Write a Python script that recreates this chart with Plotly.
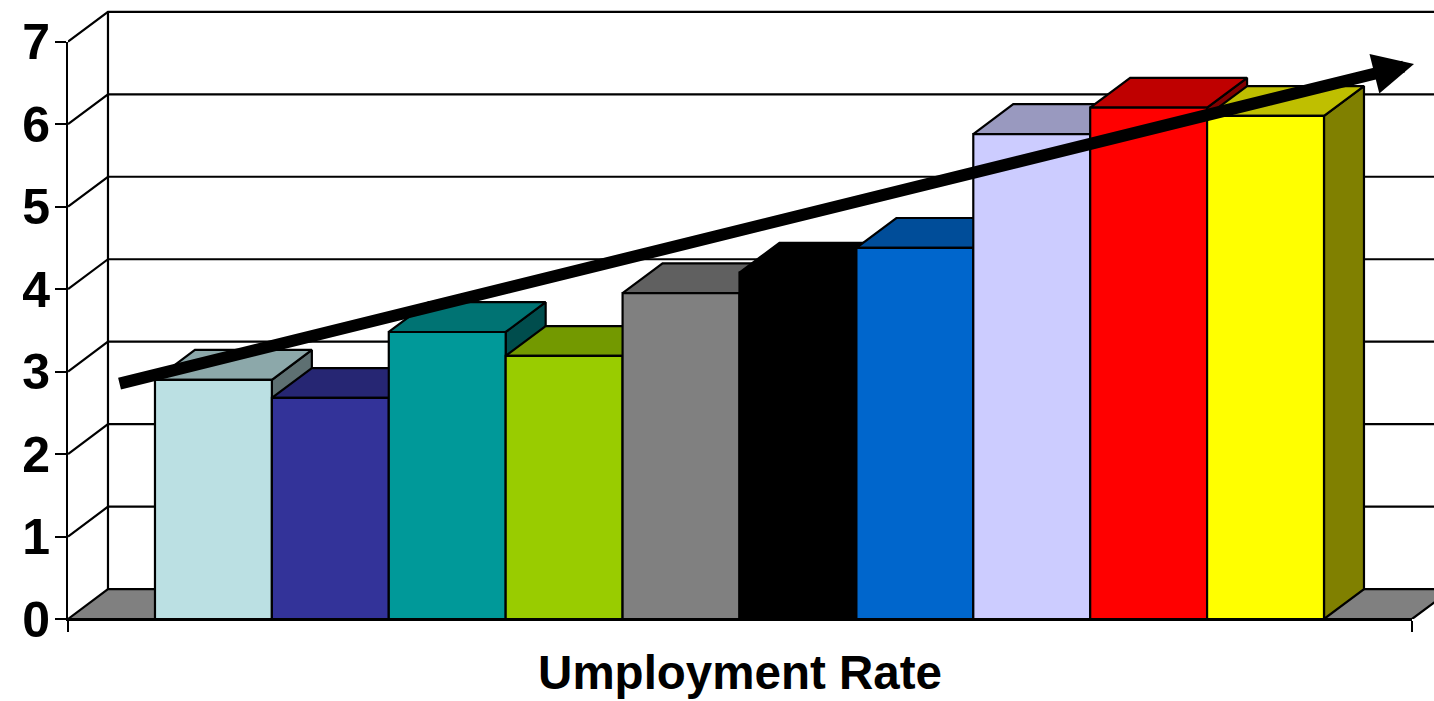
import plotly.graph_objects as go

# ---- data ----
categories = list(range(10))
values = [2.9, 2.68, 3.48, 3.19, 3.95, 4.2, 4.5, 5.88, 6.2, 6.1]
front_colors = ["#BBE0E3", "#333399", "#009999", "#99CC00", "#808080",
                "#000000", "#0066CC", "#CCCCFF", "#FF0000", "#FFFF00"]
top_colors = ["#8CA8AA", "#262673", "#007373", "#739900", "#606060",
              "#000000", "#004D99", "#9999BF", "#BF0000", "#BFBF00"]
side_colors = ["#5E7072", "#1A1A4D", "#004D4D", "#4D6600", "#404040",
               "#000000", "#003366", "#666680", "#800000", "#808000"]
y_ticks = [0, 1, 2, 3, 4, 5, 6, 7]
x_title = "Umployment Rate"
trend_start = (-0.816, 2.85)
trend_end = (10.27, 6.73)

# ---- pseudo-3D geometry in axis units ----
X_MIN, X_MAX = -1.244, 10.253
X_VIEW = 10.441      # where the picture ends on the right
Y_VIEW = 7.384       # where the picture ends at the top
DX, DY = 0.342, 0.362
FLOOR_COLOR = "#808080"
LINE = dict(color="#000000", width=2.2)

fig = go.Figure()


def poly(xs, ys, fill):
    fig.add_trace(go.Scatter(x=xs, y=ys, mode="lines", fill="toself", fillcolor=fill,
                             line=LINE, hoverinfo="skip", showlegend=False))


def segment(xs, ys):
    fig.add_trace(go.Scatter(x=xs, y=ys, mode="lines", line=LINE,
                             hoverinfo="skip", showlegend=False))


# floor
poly([X_MIN, X_MIN + DX, X_MAX + DX, X_MAX, X_MIN], [0, DY, DY, 0, 0], FLOOR_COLOR)
# back wall: vertical edge, side-wall diagonals, back gridlines
segment([X_MIN + DX, X_MIN + DX], [DY, y_ticks[-1] + DY])
for t in y_ticks[1:]:
    segment([X_MIN, X_MIN + DX, X_MAX + DX], [t, t + DY, t + DY])

# bars, left to right so that each one hides the side of the previous one
for c, v, f, tp, sd in zip(categories, values, front_colors, top_colors, side_colors):
    l, r = c - 0.5, c + 0.5
    poly([r, r + DX, r + DX, r, r], [0, DY, v + DY, v, 0], sd)
    poly([l, r, r + DX, l + DX, l], [v, v, v + DY, v + DY, v], tp)
    poly([l, r, r, l, l], [0, 0, v, v, 0], f)

# empty trace that brings up the decorated axes of the front plane
fig.add_trace(go.Scatter(x=[None], y=[None], xaxis="x2", yaxis="y2", mode="lines",
                         hoverinfo="skip", showlegend=False))

# trend arrow
fig.add_annotation(x=trend_end[0], y=trend_end[1], ax=trend_start[0], ay=trend_start[1],
                   xref="x", yref="y", axref="x", ayref="y", text="", showarrow=True,
                   arrowhead=2, arrowsize=0.68, arrowwidth=12, arrowcolor="#000000",
                   standoff=0, startstandoff=0)

fig.update_layout(
    width=1434, height=701, autosize=False,
    margin=dict(l=68, r=0, t=10, b=81.7, pad=0, autoexpand=False),
    paper_bgcolor="#FFFFFF", plot_bgcolor="rgba(0,0,0,0)", showlegend=False,
    font=dict(family="Liberation Sans, Arial, sans-serif", color="#000000"),
    xaxis=dict(range=[X_MIN, X_VIEW], visible=False, automargin=False),
    yaxis=dict(range=[0, Y_VIEW], visible=False, automargin=False),
    xaxis2=dict(domain=[0, 1344 / 1366], anchor="y2", range=[X_MIN, X_MAX], automargin=False,
                tickmode="array", tickvals=[X_MIN, X_MAX], ticktext=["", ""],
                ticks="outside", ticklen=11, tickwidth=2, tickcolor="#000000",
                showgrid=False, zeroline=False, showline=True, linecolor="#000000", linewidth=2,
                title=dict(text="<b>" + x_title + "</b>", font=dict(size=47.5), standoff=22)),
    yaxis2=dict(domain=[0, 7 / Y_VIEW], anchor="x2", range=[0, 7], automargin=False,
                tickmode="array", tickvals=y_ticks,
                ticktext=["<b>%d</b>" % t for t in y_ticks], tickfont=dict(size=50),
                ticks="outside", ticklen=11, tickwidth=2, tickcolor="#000000", ticklabelstandoff=-5,
                showgrid=False, zeroline=False, showline=True, linecolor="#000000", linewidth=2),
)

fig.write_html("out.html", config={"displayModeBar": False},
               post_script="document.body.style.margin='0';document.body.style.overflow='hidden';")
